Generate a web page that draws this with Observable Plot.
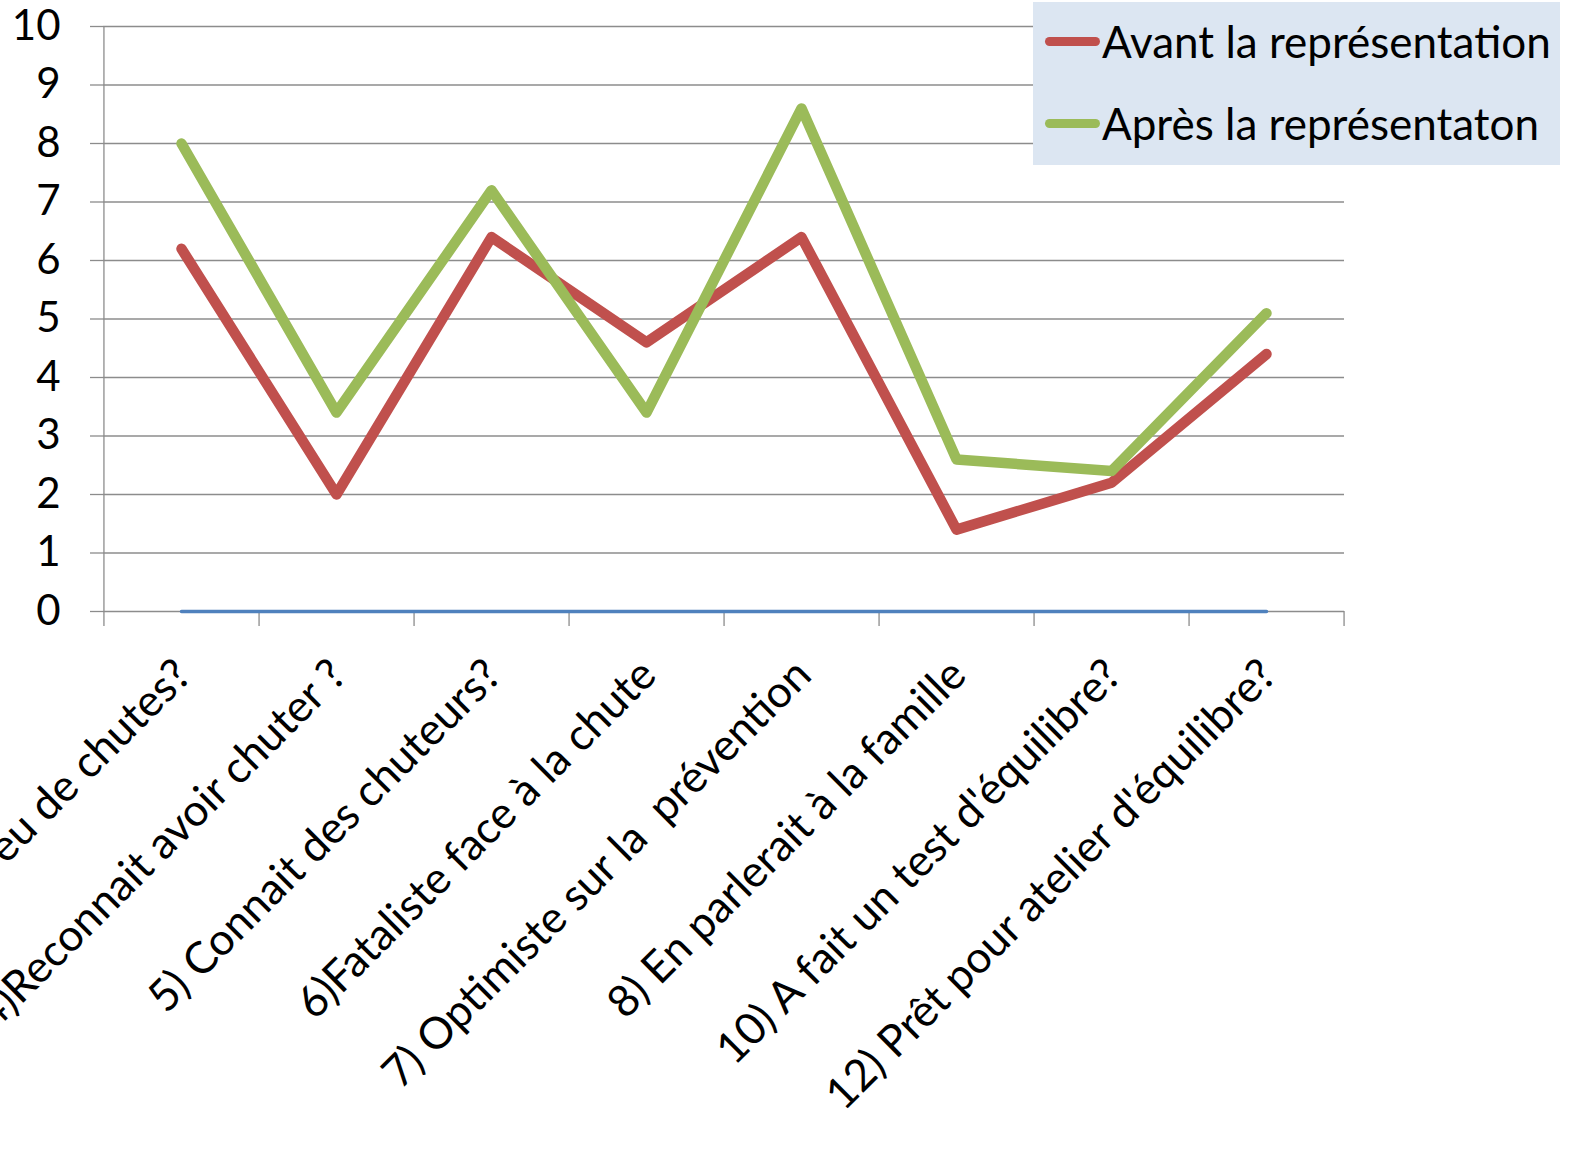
<!DOCTYPE html>
<html><head><meta charset="utf-8">
<script src="https://cdn.jsdelivr.net/npm/d3@7"></script>
<script src="https://cdn.jsdelivr.net/npm/@observablehq/plot@0.6"></script>
<style>
body{margin:0;background:#fff;}
#wrap{position:relative;width:1593px;height:1155px;font-family:Lato,"Open Sans",sans-serif;overflow:hidden;}
#legend{position:absolute;left:1033px;top:2px;width:527px;height:163px;background:#dce6f2;}
.item{position:absolute;left:12px;height:40px;display:flex;align-items:center;font-size:44px;color:#000;white-space:nowrap;}
.sw{width:55px;height:9px;border-radius:5px;margin-right:2px;}
</style></head><body><div id="wrap"></div>
<script>
const categories = [
  "3) Peu de chutes?",
  "4)Reconnait avoir chuter ?",
  "5) Connait des chuteurs?",
  "6)Fataliste face à la chute",
  "7) Optimiste sur la  prévention",
  "8) En parlerait à la famille",
  "10) A fait un test d'équilibre?",
  "12) Prêt pour atelier d'équilibre?"
];
const avant = [6.2, 2.0, 6.4, 4.6, 6.4, 1.4, 2.2, 4.4];
const apres = [8.0, 3.4, 7.2, 3.4, 8.6, 2.6, 2.4, 5.1];
const serie3 = [0, 0, 0, 0, 0, 0, 0, 0];
const yTicks = [0, 1, 2, 3, 4, 5, 6, 7, 8, 9, 10];
const seriesNames = ["Avant la représentation", "Après la représentaton"];
const colors = ["#c0504d", "#9bbb59", "#4f81bd"];

const rows = (vals) => categories.map((c, i) => ({cat: c, v: vals[i]}));

const W = 1593, H = 1155, mL = 103, mR = 249, mT = 26, mB = 544;
const step = (W - mL - mR) / categories.length;
const gray = "#8c8c8c";

const chart = Plot.plot({
  width: W, height: H,
  marginLeft: mL, marginRight: mR, marginTop: mT, marginBottom: mB,
  style: {fontFamily: "Lato, 'Open Sans', sans-serif", background: "white", color: "black"},
  x: {type: "point", domain: categories, padding: 0.5, axis: null},
  y: {domain: [0, 10], axis: null},
  marks: [
    Plot.gridY(yTicks, {stroke: gray, strokeOpacity: 1, strokeWidth: 1.3}),
    Plot.axisY({ticks: yTicks, tickSize: 13, tickPadding: 30, fontSize: 42, stroke: gray, strokeWidth: 1.3, label: null}),
    Plot.ruleX([categories[0]], {dx: -step / 2, y1: 10, y2: 0, insetBottom: -15, stroke: gray, strokeWidth: 1.3}),
    Plot.ruleX(categories, {x: d => d, dx: step / 2, y1: 0, y2: 0, insetBottom: -15, stroke: gray, strokeWidth: 1.3}),
    Plot.line(rows(serie3), {x: "cat", y: "v", stroke: colors[2], strokeWidth: 3.5}),
    Plot.line(rows(avant), {x: "cat", y: "v", stroke: colors[0], strokeWidth: 10.5, strokeLinecap: "round", strokeLinejoin: "round"}),
    Plot.line(rows(apres), {x: "cat", y: "v", stroke: colors[1], strokeWidth: 10.5, strokeLinecap: "round", strokeLinejoin: "round"}),
    Plot.text(categories, {x: d => d, frameAnchor: "bottom", dx: 12, dy: 66, rotate: -45, textAnchor: "end", fontSize: 44, fill: "black"})
  ]
});
const wrap = document.getElementById("wrap");
wrap.appendChild(chart);
const leg = document.createElement("div");
leg.id = "legend";
seriesNames.forEach((n, i) => {
  const it = document.createElement("div");
  it.className = "item";
  it.style.top = (i === 0 ? 19 : 101) + "px";
  const sw = document.createElement("span");
  sw.className = "sw";
  sw.style.background = colors[i];
  it.appendChild(sw);
  it.appendChild(document.createTextNode(n));
  leg.appendChild(it);
});
wrap.appendChild(leg);
</script></body></html>
